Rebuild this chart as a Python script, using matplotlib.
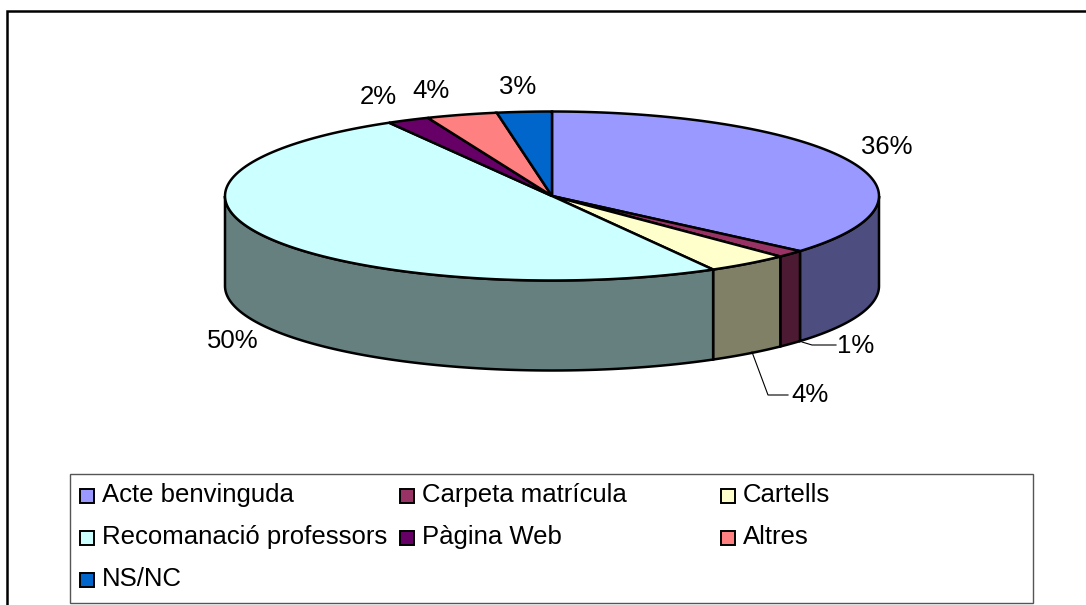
# pseudo-3D pie with a flat ellipse and a darker rim, as spreadsheet charts draw it
import numpy as np
import matplotlib
matplotlib.use('Agg')
import matplotlib.pyplot as plt
from matplotlib.patches import Polygon, Rectangle

plt.rcParams['font.family'] = ['Liberation Sans', 'DejaVu Sans']

categories = ['Acte benvinguda', 'Carpeta matrícula', 'Cartells',
              'Recomanació professors', 'Pàgina Web', 'Altres', 'NS/NC']
values = [36.3, 1.4, 4.1, 49.9, 2.1, 3.5, 2.7]
colors = ['#9999ff', '#993366', '#ffffcc', '#ccffff', '#660066', '#ff8080', '#0066cc']
label_pos = [(887, 147), (856, 346), (810, 395), (233, 341), (378, 97), (431, 91), (518, 87)]

cx, cy, rx, ry, depth = 552, 196, 327, 84.5, 90


def ellipse_pts(a0, a1, dy=0, n=120):
    t = np.radians(np.linspace(a0, a1, n))
    return np.column_stack([cx + rx * np.cos(t), cy + dy - ry * np.sin(t)])


def darker(color):
    return tuple(0.5 * c for c in matplotlib.colors.to_rgb(color))


fig = plt.figure(figsize=(10.86, 6.05), dpi=100)
ax = fig.add_axes([0, 0, 1, 1])
ax.set_xlim(0, 1086)
ax.set_ylim(605, 0)
ax.axis('off')

# chart frame
ax.plot([7, 7, 1086], [605, 11, 11], color='black', lw=1.8, solid_joinstyle='miter')

# angles go clockwise from the top of the ellipse
edges = 90 - 360 * np.cumsum([0] + values) / sum(values)

# rim first, only the front half of the ellipse is seen (-180 to 0 degrees)
for i, color in enumerate(colors):
    lo, hi = edges[i + 1], edges[i]
    s0, s1 = max(lo, -180), min(hi, 0)
    if s1 > s0:
        top = ellipse_pts(s1, s0)
        bottom = ellipse_pts(s0, s1, dy=depth)
        ax.add_patch(Polygon(np.vstack([top, bottom]), closed=True, facecolor=darker(color),
                             edgecolor='black', lw=1.8, zorder=2))

# top face
for i, color in enumerate(colors):
    pts = np.vstack([[cx, cy], ellipse_pts(edges[i], edges[i + 1])])
    ax.add_patch(Polygon(pts, closed=True, facecolor=color, edgecolor='black', lw=1.8, zorder=3))

# leader lines for the small slices
ax.plot([802, 812, 836], [342, 345, 345], color='black', lw=0.8, zorder=4)
ax.plot([752, 768, 788], [352, 395, 395], color='black', lw=0.8, zorder=4)

for value, (x, y) in zip(values, label_pos):
    ax.text(x, y, f'{round(value)}%', fontsize=18.5, ha='center', va='center', color='black', zorder=5)

# legend, three columns filled row by row
ax.add_patch(Rectangle((70, 474), 963, 129, facecolor='white', edgecolor='#555555', lw=1.0, zorder=2))
col_x = [80, 400, 721]
row_y = [496, 538, 580]
for i, (name, color) in enumerate(zip(categories, colors)):
    x, y = col_x[i % 3], row_y[i // 3]
    ax.add_patch(Rectangle((x, y - 7), 14, 14, facecolor=color, edgecolor='black', lw=1.4, zorder=3))
    ax.text(x + 22, y - 1, name, fontsize=18.5, ha='left', va='center', color='black', zorder=3)

fig.savefig('out.png', dpi=100)
